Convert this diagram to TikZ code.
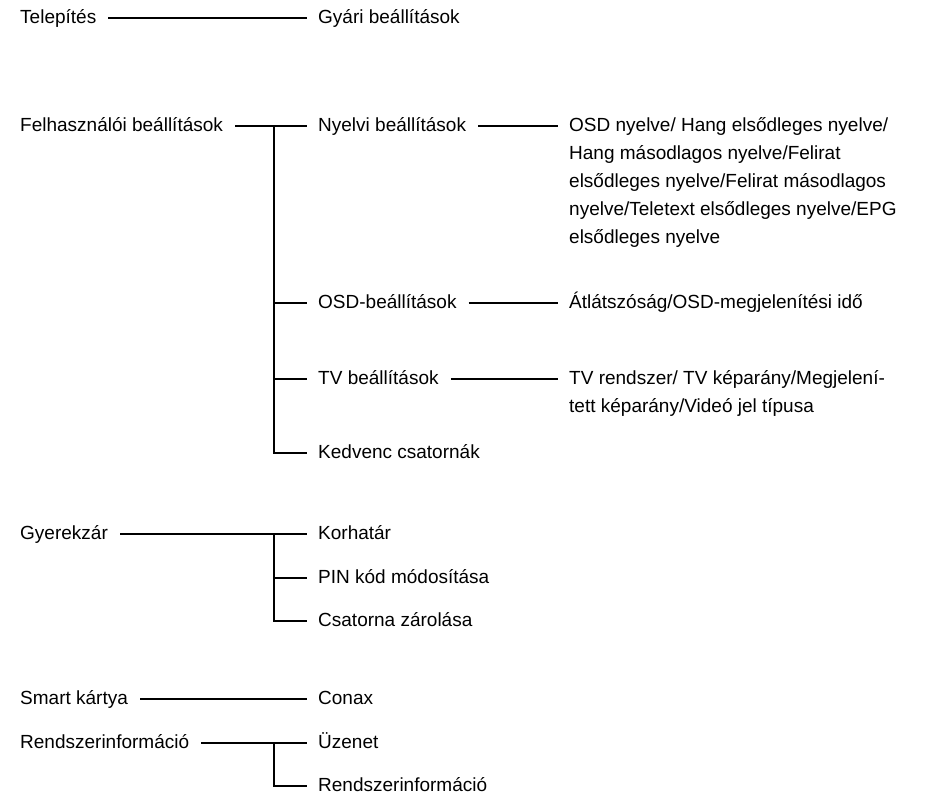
\documentclass[tikz,border=0pt]{standalone}
\usepackage{fontspec}
\setmainfont{Liberation Sans}
\usepackage{tikz}

\tikzset{
  item/.style={anchor=mid west, inner sep=0pt, align=left},
  link/.style={line width=1.2pt, shorten <=12pt, shorten >=11pt},
  branch/.style={line width=1.2pt, shorten >=11pt},
}

\begin{document}
\begin{tikzpicture}[x=1pt, y=-1pt, execute at begin picture={\fontsize{19}{28}\selectfont}]
  \pgfmathsetmacro{\colA}{20};
  \pgfmathsetmacro{\colB}{318};
  \pgfmathsetmacro{\colC}{569};
  \pgfmathsetmacro{\jx}{274};

  \useasboundingbox (0,0) rectangle (933,794);

  % Telepites
  \node[item] (tel) at (\colA, 18) {Telepítés};
  \node[item] (gyari) at (\colB, 18) {Gyári beállítások};
  \draw[link] (tel.mid east) -- (gyari.mid west);

  % Felhasznaloi beallitasok
  \node[item] (felh) at (\colA, 126) {Felhasználói beállítások};
  \node[item] (nyelvi) at (\colB, 126) {Nyelvi beállítások};
  \node[item] (osd) at (\colB, 303) {OSD-beállítások};
  \node[item] (tv) at (\colB, 379) {TV beállítások};
  \node[item] (kedv) at (\colB, 453) {Kedvenc csatornák};

  % multi-line nodes sit on their last line
  \node[item] (nyelvek) at (\colC, 238) {OSD nyelve/ Hang elsődleges nyelve/\\
    Hang másodlagos nyelve/Felirat\\
    elsődleges nyelve/Felirat másodlagos\\
    nyelve/Teletext elsődleges nyelve/EPG\\
    elsődleges nyelve};
  \node[item] (atlat) at (\colC, 303) {Átlátszóság/OSD-megjelenítési idő};
  \node[item] (tvrend) at (\colC, 407) {TV rendszer/ TV képarány/Megjelení-\\
    tett képarány/Videó jel típusa};

  \coordinate (j1) at (\jx, 126);
  \draw[link] (felh.mid east) -- (nyelvi.mid west);
  \draw[branch] (j1) |- (osd.mid west);
  \draw[branch] (j1) |- (tv.mid west);
  \draw[branch] (j1) |- (kedv.mid west);

  \draw[link] (nyelvi.mid east) -- (nyelvek.west |- nyelvi.mid east);
  \draw[link] (osd.mid east) -- (atlat.mid west);
  \draw[link] (tv.mid east) -- (tvrend.west |- tv.mid east);

  % Gyerekzar
  \node[item] (gyerek) at (\colA, 534) {Gyerekzár};
  \node[item] (korh) at (\colB, 534) {Korhatár};
  \node[item] (pin) at (\colB, 578) {PIN kód módosítása};
  \node[item] (csat) at (\colB, 621) {Csatorna zárolása};

  \coordinate (j2) at (\jx, 534);
  \draw[link] (gyerek.mid east) -- (korh.mid west);
  \draw[branch] (j2) |- (pin.mid west);
  \draw[branch] (j2) |- (csat.mid west);

  % Smart kartya
  \node[item] (smart) at (\colA, 699) {Smart kártya};
  \node[item] (conax) at (\colB, 699) {Conax};
  \draw[link] (smart.mid east) -- (conax.mid west);

  % Rendszerinformacio
  \node[item] (rinfo) at (\colA, 743) {Rendszerinformáció};
  \node[item] (uzenet) at (\colB, 743) {Üzenet};
  \node[item] (rinfo2) at (\colB, 786) {Rendszerinformáció};

  \coordinate (j3) at (\jx, 743);
  \draw[link] (rinfo.mid east) -- (uzenet.mid west);
  \draw[branch] (j3) |- (rinfo2.mid west);
\end{tikzpicture}
\end{document}
